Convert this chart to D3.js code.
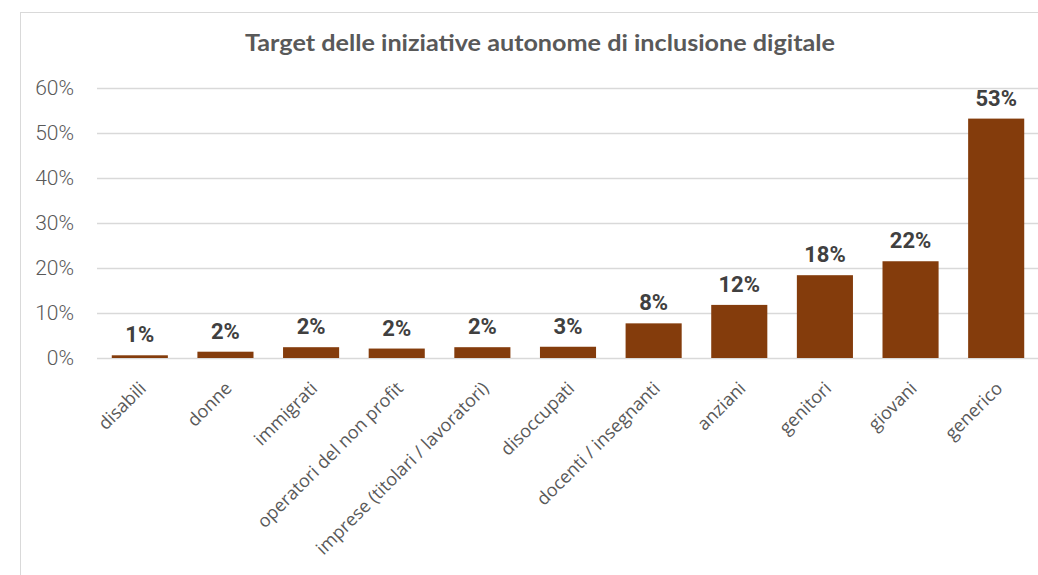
<!DOCTYPE html>
<html lang="it">
<head>
<meta charset="UTF-8">
<title>Target delle iniziative autonome di inclusione digitale</title>
<script src="https://d3js.org/d3.v7.min.js"></script>
<style>
  body { margin: 0; background: #fff; }
  svg { display: block; }
</style>
</head>
<body>
<script>
// data (share of initiatives per target)
var categories = ["disabili", "donne", "immigrati", "operatori del non profit",
  "imprese (titolari / lavoratori)", "disoccupati", "docenti / insegnanti",
  "anziani", "genitori", "giovani", "generico"];
var values = [0.006, 0.014, 0.024, 0.021, 0.024, 0.025, 0.077, 0.118, 0.184, 0.215, 0.532];
var valueLabels = ["1%", "2%", "2%", "2%", "2%", "3%", "8%", "12%", "18%", "22%", "53%"];
var yTicks = [0, 0.1, 0.2, 0.3, 0.4, 0.5, 0.6];

var width = 1038, height = 575;

var svg = d3.select("body").append("svg")
  .attr("width", width)
  .attr("height", height);

// chart area border (right and bottom edges fall outside the picture)
svg.append("rect")
  .attr("x", 20.5).attr("y", 12.5)
  .attr("width", 1040).attr("height", 600)
  .attr("fill", "#fff")
  .attr("stroke", "#d9d9d9");

// title
svg.append("text")
  .attr("x", 540).attr("y", 51)
  .attr("text-anchor", "middle")
  .attr("font-family", "Lato, 'Open Sans', sans-serif")
  .attr("font-weight", "bold")
  .attr("font-size", 23)
  .attr("fill", "#595959")
  .attr("textLength", 590)
  .attr("lengthAdjust", "spacingAndGlyphs")
  .text("Target delle iniziative autonome di inclusione digitale");

// scales
var x = d3.scaleBand()
  .domain(categories)
  .range([97, 1039])
  .paddingInner(0.345)
  .paddingOuter(0.1725);

var y = d3.scaleLinear()
  .domain([0, 0.6])
  .range([358, 88]);

// gridlines
svg.append("g")
  .selectAll("line")
  .data(yTicks)
  .join("line")
  .attr("x1", 97).attr("x2", 1038)
  .attr("y1", d => Math.round(y(d)) + 0.5)
  .attr("y2", d => Math.round(y(d)) + 0.5)
  .attr("stroke", "#d9d9d9")
  .attr("stroke-width", 1.3);

// y axis labels
var yAxis = svg.append("g")
  .attr("transform", "translate(74,0)")
  .call(d3.axisLeft(y).tickValues(yTicks).tickFormat(d3.format(".0%")).tickSize(0).tickPadding(0));
yAxis.select(".domain").remove();
yAxis.selectAll("text")
  .attr("font-family", "Roboto, sans-serif")
  .attr("font-weight", 300)
  .attr("font-size", 21)
  .attr("fill", "#595959");

// bars
svg.append("g")
  .selectAll("rect")
  .data(values)
  .join("rect")
  .attr("x", (d, i) => x(categories[i]))
  .attr("y", d => y(d))
  .attr("width", x.bandwidth())
  .attr("height", d => y(0) - y(d))
  .attr("fill", "#843c0c");

// value labels
svg.append("g")
  .selectAll("text")
  .data(values)
  .join("text")
  .attr("x", (d, i) => x(categories[i]) + x.bandwidth() / 2)
  .attr("y", d => y(d) - 13)
  .attr("text-anchor", "middle")
  .attr("font-family", "Roboto, sans-serif")
  .attr("font-weight", "bold")
  .attr("font-size", 22)
  .attr("fill", "#404040")
  .text((d, i) => valueLabels[i]);

// category labels, rotated
svg.append("g")
  .selectAll("text")
  .data(categories)
  .join("text")
  .attr("transform", d => "translate(" + (x(d) + x.bandwidth() / 2 + 3) + ",385) rotate(-45)")
  .attr("text-anchor", "end")
  .attr("dy", "0.35em")
  .attr("font-family", "'Open Sans', sans-serif")
  .attr("font-size", 18)
  .attr("fill", "#595959")
  .text(d => d);
</script>
</body>
</html>
